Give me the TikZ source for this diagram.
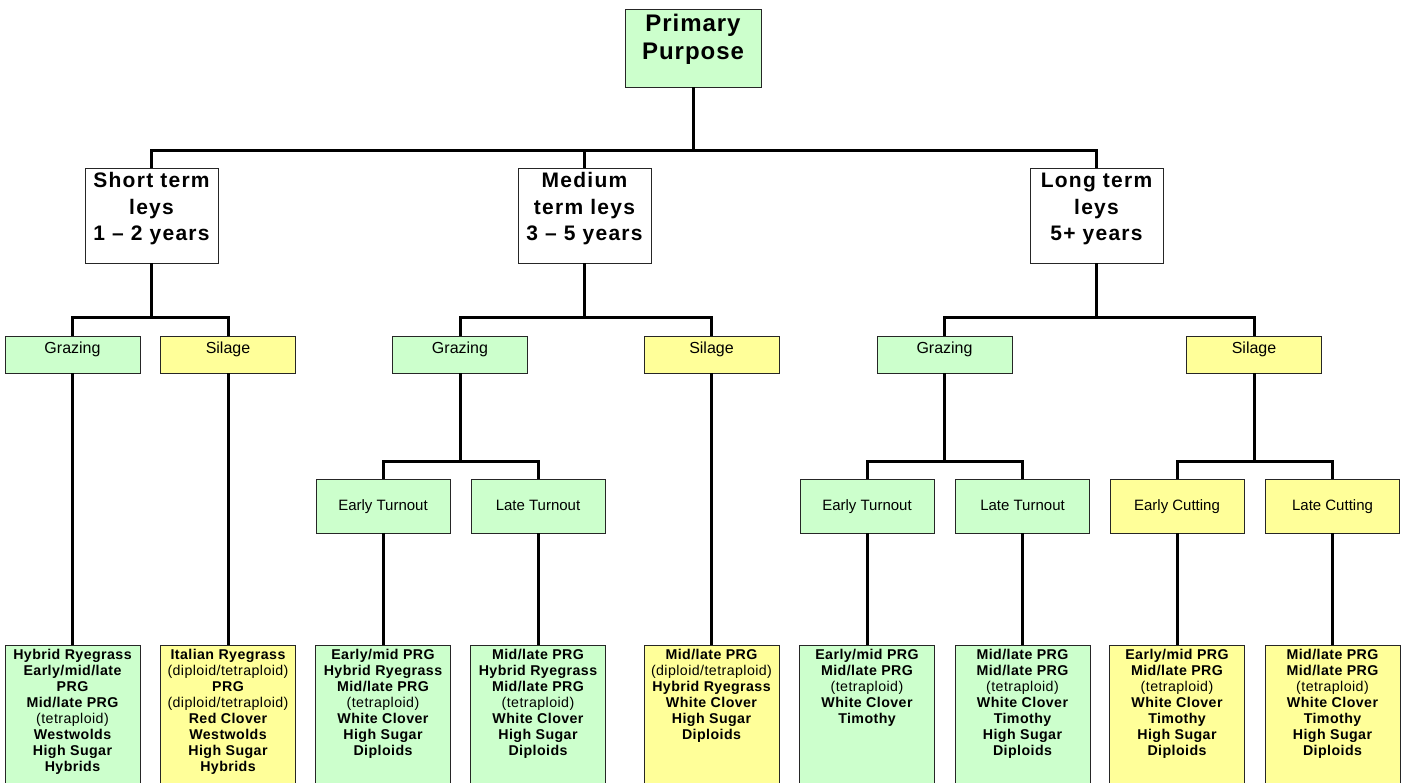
\documentclass[tikz,border=0pt]{standalone}
\usepackage{fontspec}
\setmainfont{Liberation Sans}
\usetikzlibrary{positioning}
\definecolor{grazegreen}{RGB}{204,255,204}
\definecolor{silageyellow}{RGB}{255,255,153}
% box contents, top aligned
\newcommand{\roottext}[1]{\parbox[t][78pt][t]{136pt}{\centering\fontsize{24}{27.5}\selectfont\bfseries\addfontfeatures{LetterSpace=4}\rule{0pt}{23pt}#1}}
\newcommand{\leytext}[1]{\parbox[t][95pt][t]{133pt}{\centering\fontsize{21}{26.5}\selectfont\bfseries\addfontfeatures{LetterSpace=6}\rule{0pt}{20pt}#1}}
\newcommand{\usetext}[1]{\parbox[t][37pt][t]{135pt}{\centering\fontsize{16}{19}\selectfont\rule{0pt}{18pt}#1}}
\newcommand{\timetext}[1]{\parbox[t][54pt][t]{134pt}{\centering\fontsize{15}{18}\selectfont\rule{0pt}{32pt}#1}}
\newcommand{\mixtext}[1]{\parbox[t][140pt][t]{135pt}{\centering\fontsize{14.2}{15.9}\selectfont\bfseries\addfontfeatures{LetterSpace=3}\rule{0pt}{14.5pt}#1}}
\newcommand{\plain}[1]{{\mdseries #1}}

\begin{document}
\begin{tikzpicture}[x=1pt,y=1pt]
\tikzstyle{every node}+=[inner sep=0pt]
\tikzstyle{box}=[draw=black!85, line width=0.8pt]
\tikzstyle{grazebox}=[box, fill=grazegreen]
\tikzstyle{silagebox}=[box, fill=silageyellow]
\tikzstyle{leybox}=[box, fill=white]
\tikzstyle{conn}=[line width=3pt, black]
\useasboundingbox (0,0) rectangle (1407,783);
% top
\node [grazebox] (root) at (693,735) {\roottext{Primary\\Purpose}};
% ley lengths
\node [leybox] (st) at (151.5,567.5) {\leytext{Short term\\leys\\1 -- 2 years}};
\node [leybox] (mt) at (584.5,567.5) {\leytext{Medium\\term leys\\3 -- 5 years}};
\node [leybox] (lt) at (1096.5,567.5) {\leytext{Long term\\leys\\5+ years}};
% use
\node [grazebox] (sg) at (72.5,428.5) {\usetext{Grazing}};
\node [silagebox] (ss) at (228,428.5) {\usetext{Silage}};
\node [grazebox] (mg) at (460,428.5) {\usetext{Grazing}};
\node [silagebox] (ms) at (711.5,428.5) {\usetext{Silage}};
\node [grazebox] (lg) at (944.5,428.5) {\usetext{Grazing}};
\node [silagebox] (ls) at (1254,428.5) {\usetext{Silage}};
% timing
\node [grazebox] (me) at (383,277) {\timetext{Early Turnout}};
\node [grazebox] (ml) at (538,277) {\timetext{Late Turnout}};
\node [grazebox] (le) at (867,277) {\timetext{Early Turnout}};
\node [grazebox] (ll) at (1022.5,277) {\timetext{Late Turnout}};
\node [silagebox] (lc) at (1177,277) {\timetext{Early Cutting}};
\node [silagebox] (lx) at (1332.5,277) {\timetext{Late Cutting}};
% mixtures
\node [grazebox, anchor=north] (leafsg) at (72.5,138) {\mixtext{Hybrid Ryegrass\\Early/mid/late\\PRG\\Mid/late PRG\\\plain{(tetraploid)}\\Westwolds\\High Sugar\\Hybrids}};
\node [silagebox, anchor=north] (leafss) at (228,138) {\mixtext{Italian Ryegrass\\\plain{(diploid/tetraploid)}\\PRG\\\plain{(diploid/tetraploid)}\\Red Clover\\Westwolds\\High Sugar\\Hybrids}};
\node [grazebox, anchor=north] (leafme) at (383,138) {\mixtext{Early/mid PRG\\Hybrid Ryegrass\\Mid/late PRG\\\plain{(tetraploid)}\\White Clover\\High Sugar\\Diploids}};
\node [grazebox, anchor=north] (leafml) at (538,138) {\mixtext{Mid/late PRG\\Hybrid Ryegrass\\Mid/late PRG\\\plain{(tetraploid)}\\White Clover\\High Sugar\\Diploids}};
\node [silagebox, anchor=north] (leafms) at (711.5,138) {\mixtext{Mid/late PRG\\\plain{(diploid/tetraploid)}\\Hybrid Ryegrass\\White Clover\\High Sugar\\Diploids}};
\node [grazebox, anchor=north] (leafle) at (867,138) {\mixtext{Early/mid PRG\\Mid/late PRG\\\plain{(tetraploid)}\\White Clover\\Timothy}};
\node [grazebox, anchor=north] (leafll) at (1022.5,138) {\mixtext{Mid/late PRG\\Mid/late PRG\\\plain{(tetraploid)}\\White Clover\\Timothy\\High Sugar\\Diploids}};
\node [silagebox, anchor=north] (leaflc) at (1177,138) {\mixtext{Early/mid PRG\\Mid/late PRG\\\plain{(tetraploid)}\\White Clover\\Timothy\\High Sugar\\Diploids}};
\node [silagebox, anchor=north] (leaflx) at (1332.5,138) {\mixtext{Mid/late PRG\\Mid/late PRG\\\plain{(tetraploid)}\\White Clover\\Timothy\\High Sugar\\Diploids}};
% connectors
\draw [conn] (root.south) -- (root.south |- 0,632);
\draw [conn] (st.north) |- (root.south |- 0,632) -| (lt.north);
\draw [conn] (mt.north) -- (mt.north |- 0,632);
\foreach \p/\a/\b in {st/sg/ss, mt/mg/ms, lt/lg/ls} {
  \draw [conn] (\p.south) -- (\p.south |- 0,465);
  \draw [conn] (\a.north) |- (\p.south |- 0,465) -| (\b.north);
}
\foreach \p/\a/\b in {mg/me/ml, lg/le/ll, ls/lc/lx} {
  \draw [conn] (\p.south) -- (\p.south |- 0,321);
  \draw [conn] (\a.north) |- (\p.south |- 0,321) -| (\b.north);
}
\foreach \p in {sg,ss,me,ml,ms,le,ll,lc,lx}
  \draw [conn] (\p.south) -- (leaf\p.north);
\end{tikzpicture}
\end{document}
